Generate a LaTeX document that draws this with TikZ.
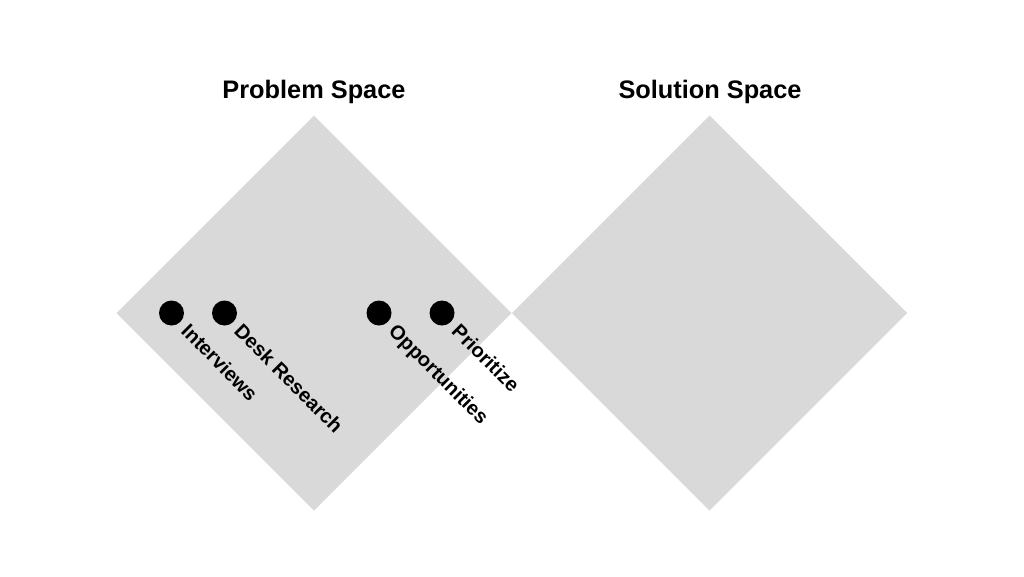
\documentclass[tikz,border=0pt]{standalone}
\usepackage{fontspec}
\setmainfont{Liberation Sans}
\begin{document}
\begin{tikzpicture}[x=0.75pt,y=-0.75pt,
  space/.style={fill=spacegray,draw=none},
  dotmark/.style={circle,fill=black,minimum size=18.75pt,inner sep=0pt},
  steplabel/.style={rotate=-45,anchor=base west,inner sep=0pt,font=\bfseries\fontsize{15}{17}\selectfont},
  title/.style={anchor=base,inner sep=0pt,font=\bfseries\fontsize{19}{23}\selectfont}]
\definecolor{spacegray}{RGB}{217,217,217}
\useasboundingbox (0,0) rectangle (1024,576);
% diamonds
\fill[space] (314,115.5) -- (511.5,313) -- (314,510.5) -- (116.5,313) -- cycle;
\fill[space] (709.5,115.5) -- (907,313) -- (709.5,510.5) -- (512,313) -- cycle;
% titles
\node[title] (ptitle) at (314,98.5) {Problem Space};
\node[title] (stitle) at (710,98.5) {Solution Space};
% dots
\node[dotmark] (d1) at (171.5,313) {};
\node[dotmark] (d2) at (224.5,313) {};
\node[dotmark] (d3) at (379,313) {};
\node[dotmark] (d4) at (442,313) {};
% labels
\node[steplabel] (l1) at (180,332.5) {Interviews};
\node[steplabel] (l2) at (233,332.5) {Desk Research};
\node[steplabel] (l3) at (387.5,332.5) {Opportunities};
\node[steplabel] (l4) at (450.5,332.5) {Prioritize};
\end{tikzpicture}
\end{document}
